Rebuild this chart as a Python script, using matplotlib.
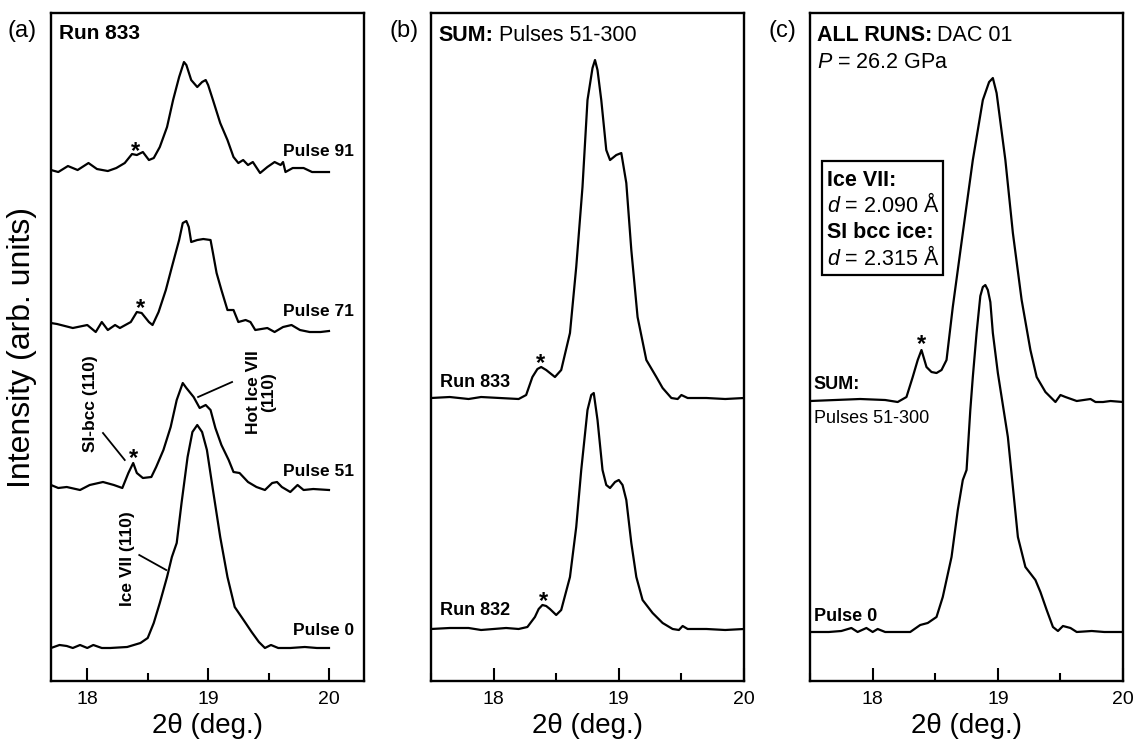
import matplotlib
matplotlib.use("Agg")
import matplotlib.pyplot as plt
from matplotlib.ticker import MultipleLocator, NullLocator
from matplotlib.patches import Rectangle
import numpy as np

plt.rcParams['font.family'] = ['Liberation Sans', 'DejaVu Sans']
plt.rcParams['mathtext.fontset'] = 'custom'
plt.rcParams['mathtext.rm'] = 'Liberation Sans'
plt.rcParams['mathtext.it'] = 'Liberation Sans:italic'
plt.rcParams['mathtext.bf'] = 'Liberation Sans:bold'

# ---- panel (a): Run 833, single pulses (intensity above baseline, arb. units)
a91_x = [17.70, 17.76, 17.84, 17.92, 18.01, 18.08, 18.17, 18.24, 18.31, 18.37, 18.41, 18.46,
         18.51, 18.55, 18.60, 18.66, 18.71, 18.76, 18.80, 18.82, 18.86, 18.91, 18.95, 18.98,
         19.00, 19.04, 19.10, 19.16, 19.21, 19.25, 19.29, 19.33, 19.37, 19.43, 19.49, 19.55,
         19.60, 19.62, 19.64, 19.70, 19.79, 19.86, 19.93, 20.00]
a91_y = [0.00, -0.02, 0.04, 0.00, 0.07, 0.01, -0.01, 0.02, 0.07, 0.16, 0.15, 0.18,
         0.10, 0.12, 0.23, 0.43, 0.70, 0.93, 1.08, 1.05, 0.90, 0.83, 0.88, 0.90,
         0.85, 0.70, 0.47, 0.30, 0.13, 0.07, 0.10, 0.05, 0.08, -0.03, 0.03, 0.08,
         0.05, 0.08, -0.02, 0.02, 0.02, -0.02, -0.02, -0.02]

a71_x = [17.70, 17.75, 17.88, 18.00, 18.07, 18.12, 18.17, 18.23, 18.27, 18.36, 18.41, 18.45,
         18.51, 18.54, 18.59, 18.65, 18.70, 18.76, 18.79, 18.82, 18.84, 18.86, 18.91, 18.96,
         19.02, 19.04, 19.07, 19.11, 19.16, 19.21, 19.25, 19.31, 19.35, 19.39, 19.49, 19.55,
         19.62, 19.69, 19.76, 19.84, 19.93, 20.00]
a71_y = [0.04, 0.03, -0.01, 0.02, -0.05, 0.05, -0.03, 0.02, -0.01, 0.05, 0.15, 0.14,
         0.05, 0.02, 0.15, 0.37, 0.60, 0.87, 1.04, 1.06, 1.00, 0.85, 0.87, 0.88,
         0.87, 0.74, 0.54, 0.37, 0.17, 0.17, 0.05, 0.07, 0.05, -0.03, -0.01, -0.05,
         0.00, 0.02, -0.03, -0.05, -0.05, -0.04]

a51_x = [17.70, 17.76, 17.83, 17.94, 18.02, 18.13, 18.22, 18.29, 18.34, 18.38, 18.41, 18.46,
         18.53, 18.57, 18.63, 18.69, 18.74, 18.79, 18.82, 18.88, 18.93, 18.98, 19.02, 19.06,
         19.11, 19.17, 19.21, 19.26, 19.33, 19.40, 19.47, 19.53, 19.57, 19.61, 19.68, 19.74,
         19.79, 19.87, 20.00]
a51_y = [0.02, -0.01, 0.00, -0.03, 0.02, 0.05, 0.02, -0.01, 0.14, 0.24, 0.14, 0.09,
         0.10, 0.20, 0.37, 0.60, 0.87, 1.04, 0.99, 0.90, 0.79, 0.82, 0.77, 0.59,
         0.42, 0.27, 0.15, 0.14, 0.05, 0.00, -0.03, 0.04, 0.05, 0.00, -0.05, 0.02,
         -0.03, -0.02, -0.03]

a0_x = [17.70, 17.77, 17.83, 17.88, 17.94, 18.00, 18.05, 18.12, 18.19, 18.33, 18.44, 18.50,
        18.55, 18.60, 18.66, 18.70, 18.74, 18.78, 18.83, 18.87, 18.91, 18.95, 18.99, 19.04,
        19.10, 19.16, 19.22, 19.31, 19.36, 19.42, 19.47, 19.52, 19.58, 19.68, 19.80, 19.90,
        20.00]
a0_y = [0.00, 0.03, 0.02, 0.00, 0.03, 0.00, 0.03, 0.00, 0.00, 0.01, 0.05, 0.10,
        0.25, 0.45, 0.71, 0.91, 1.05, 1.45, 1.91, 2.16, 2.23, 2.16, 1.98, 1.58,
        1.11, 0.71, 0.41, 0.25, 0.16, 0.06, 0.00, 0.03, 0.00, 0.00, 0.01, 0.00,
        0.00]

a_curves = [(a0_x, a0_y), (a51_x, a51_y), (a71_x, a71_y), (a91_x, a91_y)]
a_offsets = [0.33, 1.94, 3.54, 5.11]
a_labels = ["Pulse 0", "Pulse 51", "Pulse 71", "Pulse 91"]

# ---- panel (b): sums over pulses 51-300
b833_x = [17.50, 17.65, 17.80, 17.90, 18.05, 18.20, 18.26, 18.31, 18.35, 18.38, 18.42, 18.45,
          18.49, 18.54, 18.61, 18.66, 18.71, 18.75, 18.79, 18.81, 18.83, 18.86, 18.90, 18.93,
          18.98, 19.02, 19.06, 19.10, 19.15, 19.22, 19.30, 19.35, 19.42, 19.47, 19.50, 19.55,
          19.70, 19.85, 20.00]
b833_y = [0.00, 0.01, -0.01, 0.01, 0.00, -0.01, 0.03, 0.21, 0.29, 0.31, 0.28, 0.25,
          0.21, 0.28, 0.65, 1.31, 2.11, 2.98, 3.30, 3.38, 3.28, 2.98, 2.48, 2.38,
          2.43, 2.45, 2.15, 1.48, 0.81, 0.38, 0.21, 0.10, 0.00, -0.01, 0.03, 0.00,
          0.00, -0.01, 0.00]

b832_x = [17.50, 17.65, 17.80, 17.90, 18.00, 18.10, 18.20, 18.27, 18.33, 18.36, 18.39, 18.42,
          18.45, 18.50, 18.54, 18.61, 18.66, 18.70, 18.75, 18.78, 18.80, 18.83, 18.87, 18.90,
          18.93, 18.97, 19.00, 19.03, 19.06, 19.10, 19.14, 19.19, 19.27, 19.35, 19.43, 19.48,
          19.51, 19.55, 19.70, 19.85, 20.00]
b832_y = [0.00, 0.01, 0.01, -0.01, 0.00, 0.01, 0.00, 0.02, 0.12, 0.20, 0.24, 0.23,
          0.20, 0.14, 0.19, 0.52, 1.02, 1.59, 2.19, 2.34, 2.36, 2.09, 1.59, 1.44,
          1.41, 1.47, 1.49, 1.44, 1.29, 0.86, 0.52, 0.29, 0.16, 0.06, 0.00, -0.01,
          0.03, 0.00, 0.00, -0.01, 0.00]

b_curves = [(b832_x, b832_y), (b833_x, b833_y)]
b_offsets = [0.52, 2.83]
b_labels = ["Run 832", "Run 833"]

# ---- panel (c): all runs, DAC 01
csum_x = [17.50, 17.70, 17.90, 18.10, 18.20, 18.27, 18.32, 18.36, 18.39, 18.43, 18.47, 18.51,
          18.55, 18.59, 18.64, 18.72, 18.80, 18.88, 18.93, 18.96, 18.99, 19.06, 19.12, 19.19,
          19.26, 19.31, 19.38, 19.46, 19.50, 19.54, 19.63, 19.74, 19.78, 19.84, 19.90, 20.00]
csum_y = [0.00, 0.01, 0.02, 0.01, -0.01, 0.04, 0.24, 0.41, 0.51, 0.34, 0.29, 0.28,
          0.31, 0.41, 0.94, 1.68, 2.41, 3.01, 3.19, 3.23, 3.08, 2.41, 1.68, 1.01,
          0.51, 0.24, 0.09, -0.01, 0.06, 0.04, 0.00, 0.02, -0.01, -0.01, 0.00, -0.01]

c0_x = [17.50, 17.65, 17.75, 17.83, 17.88, 17.95, 18.00, 18.04, 18.10, 18.30, 18.38, 18.44,
        18.51, 18.56, 18.63, 18.68, 18.72, 18.75, 18.78, 18.80, 18.83, 18.86, 18.88, 18.90,
        18.92, 18.94, 18.96, 19.00, 19.08, 19.12, 19.16, 19.22, 19.30, 19.34, 19.39, 19.44,
        19.48, 19.52, 19.58, 19.63, 19.75, 19.85, 20.00]
c0_y = [0.00, 0.00, 0.01, 0.04, 0.00, 0.04, 0.00, 0.03, 0.00, 0.00, 0.07, 0.09,
        0.15, 0.35, 0.75, 1.22, 1.52, 1.62, 2.22, 2.55, 2.99, 3.36, 3.45, 3.47,
        3.42, 3.30, 2.99, 2.59, 1.95, 1.45, 0.95, 0.65, 0.52, 0.40, 0.22, 0.05,
        0.01, 0.06, 0.04, 0.00, 0.01, 0.00, 0.00]

c_curves = [(c0_x, c0_y), (csum_x, csum_y)]
c_offsets = [0.49, 2.80]

d_lines = [("Ice VII:", "bold"), ("$d$ = 2.090 Å", "normal"),
           ("SI bcc ice:", "bold"), ("$d$ = 2.315 Å", "normal")]

xlims = [(17.7, 20.29), (17.5, 20.0), (17.5, 20.0)]
ylim = (0, 6.68)


def style_axis(ax, xlim):
    ax.set_xlim(*xlim)
    ax.set_ylim(*ylim)
    ax.xaxis.set_major_locator(MultipleLocator(1))
    ax.xaxis.set_minor_locator(MultipleLocator(0.5))
    ax.yaxis.set_major_locator(NullLocator())
    ax.yaxis.set_minor_locator(NullLocator())
    ax.tick_params(axis='x', which='major', direction='in', length=9.5, width=1.5,
                   labelsize=14, pad=7)
    ax.tick_params(axis='x', which='minor', direction='in', length=5.5, width=1.5)
    for s in ax.spines.values():
        s.set_linewidth(1.7)
    ax.set_xlabel("2θ (deg.)", fontsize=20, labelpad=4)


def bold_then_plain(ax, x, y, bold, plain, size):
    # bold lead-in followed by normal-weight text on the same line
    t = ax.text(x, y, bold, fontsize=size, fontweight='bold', va='center')
    ax.annotate(plain, xy=(1, 0.5), xycoords=t, xytext=(4, 0), textcoords='offset points',
                fontsize=size, va='center', ha='left')


fig = plt.figure(figsize=(11.39, 7.49), dpi=100)
ax_a = fig.add_axes([0.0448, 0.0908, 0.2748, 0.8918])
ax_b = fig.add_axes([0.3784, 0.0908, 0.2748, 0.8918])
ax_c = fig.add_axes([0.7112, 0.0908, 0.2748, 0.8918])

for ax, xl in zip([ax_a, ax_b, ax_c], xlims):
    style_axis(ax, xl)

for ax, curves, offs in [(ax_a, a_curves, a_offsets), (ax_b, b_curves, b_offsets),
                         (ax_c, c_curves, c_offsets)]:
    for (x, y), off in zip(curves, offs):
        ax.plot(x, np.array(y) + off, color='black', lw=1.6, solid_joinstyle='round')

ax_a.set_ylabel("Intensity (arb. units)", fontsize=23, labelpad=10)

# panel letters
fig.text(0.007, 0.958, "(a)", fontsize=17, va='center')
fig.text(0.3424, 0.958, "(b)", fontsize=17, va='center')
fig.text(0.6743, 0.958, "(c)", fontsize=17, va='center')

# ---- panel (a) annotations
ax_a.text(17.77, 6.48, "Run 833", fontsize=15, fontweight='bold', va='center')
for lab, yy in zip(a_labels, [0.50, 2.10, 3.70, 5.30]):
    ax_a.text(20.21, yy, lab, fontsize=12.5, fontweight='bold', va='center', ha='right')
for sx, sy in [(18.40, 5.37), (18.44, 3.79), (18.38, 2.29)]:
    ax_a.text(sx, sy - 0.07, "*", fontsize=17, fontweight='bold', ha='center', va='center')

ax_a.text(18.025, 2.77, "SI-bcc (110)", rotation=90, fontsize=12.5, fontweight='bold',
          ha='center', va='center')
ax_a.plot([18.13, 18.31], [2.48, 2.21], color='black', lw=1.3)
ax_a.text(19.44, 2.89, "Hot Ice VII\n(110)", rotation=90, fontsize=12.5, fontweight='bold',
          ha='center', va='center', multialignment='center', linespacing=1.0)
ax_a.plot([18.917, 19.198], [2.84, 2.99], color='black', lw=1.3)
ax_a.text(18.33, 1.22, "Ice VII (110)", rotation=90, fontsize=12.5, fontweight='bold',
          ha='center', va='center')
ax_a.plot([18.43, 18.653], [1.26, 1.11], color='black', lw=1.3)

# ---- panel (b) annotations
bold_then_plain(ax_b, 17.56, 6.46, "SUM:", "Pulses 51-300", 15.5)
ax_b.text(17.568, 2.99, "Run 833", fontsize=13, fontweight='bold', va='center')
ax_b.text(17.568, 0.70, "Run 832", fontsize=13, fontweight='bold', va='center')
for sx, sy in [(18.376, 3.24), (18.40, 0.86)]:
    ax_b.text(sx, sy - 0.07, "*", fontsize=17, fontweight='bold', ha='center', va='center')

# ---- panel (c) annotations
bold_then_plain(ax_c, 17.552, 6.46, "ALL RUNS:", "DAC 01", 15.5)
ax_c.text(17.552, 6.19, r"$P$ = 26.2 GPa", fontsize=15.5, va='center')
ax_c.add_patch(Rectangle((17.592, 4.06), 0.968, 1.14, fill=True, fc='white', ec='black',
                         lw=1.6, zorder=3))
for (txt, wt), yy in zip(d_lines, [5.01, 4.76, 4.49, 4.23]):
    ax_c.text(17.632, yy, txt, fontsize=15.5, fontweight=wt, va='center', zorder=4)
ax_c.text(17.528, 2.97, "SUM:", fontsize=13, fontweight='bold', va='center')
ax_c.text(17.528, 2.63, "Pulses 51-300", fontsize=13, va='center')
ax_c.text(17.528, 0.64, "Pulse 0", fontsize=13, fontweight='bold', va='center')
ax_c.text(18.392, 3.43 - 0.07, "*", fontsize=17, fontweight='bold', ha='center', va='center')

fig.savefig("out.png", dpi=100)
